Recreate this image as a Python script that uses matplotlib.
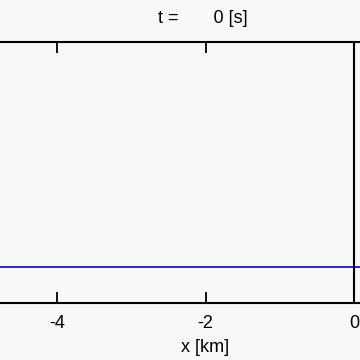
import matplotlib
matplotlib.use("Agg")
import matplotlib.pyplot as plt

plt.rcParams['font.family'] = ['Liberation Sans', 'DejaVu Sans']
plt.rcParams['axes.unicode_minus'] = False

# data
x_surface = [-10.0, 6.0]
eta = [0.0, 0.0]
wall_x = [0.0, 0.0]
wall_y = [-0.157, 1.0]
xticks = [-10, -8, -6, -4, -2, 0, 2, 4, 6]
t_value = 0

bg = '#f8f8f8'
fig = plt.figure(figsize=(3.6, 3.6), dpi=100, facecolor=bg)
W = 360.0
left_px, right_px = -388.0, 799.0
ax = fig.add_axes([left_px / W, 1 - 302.7 / W, (right_px - left_px) / W, (302.7 - 42) / W])
ax.set_facecolor(bg)

ax.plot(x_surface, eta, color='#0000dd', lw=1.2)
ax.plot(wall_x, wall_y, color='black', lw=1.5)

ax.set_xlim(-10, 6)
ax.set_ylim(-0.157, 1.0)
ax.set_xticks(xticks)
ax.set_xticklabels([str(v) for v in xticks])
ax.set_yticks([])
ax.tick_params(axis='x', direction='in', length=8, width=1.3, top=True,
               labelsize=13, pad=9)
for s in ax.spines.values():
    s.set_linewidth(1.5)

ax.set_xlabel('x [km]', fontsize=13, labelpad=5)
ax.set_title('t =       %d [s]' % t_value, fontsize=13, pad=14, x=0.4975)

fig.savefig('out.png', dpi=100, facecolor=bg)
